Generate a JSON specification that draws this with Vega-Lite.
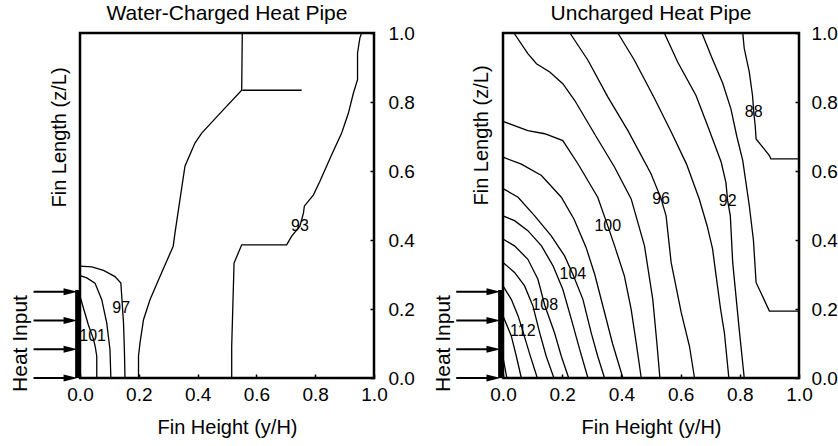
{
  "$schema": "https://vega.github.io/schema/vega-lite/v6.json",
  "background": "white",
  "padding": {"left": 8, "top": 1, "right": 0, "bottom": 0},
  "spacing": 15,
  "datasets": {
    "arrows": [
      {"xa": -0.158, "xb": -0.035, "xh": -0.032, "y": 0},
      {"xa": -0.158, "xb": -0.035, "xh": -0.032, "y": 0.083},
      {"xa": -0.158, "xb": -0.035, "xh": -0.032, "y": 0.167},
      {"xa": -0.158, "xb": -0.035, "xh": -0.032, "y": 0.25}
    ],
    "heater": [{"x": -0.008, "y0": 0, "y1": 0.255}],
    "heatlabel": [{"x": -0.2, "y": 0.1, "t": "Heat Input"}],
    "leftLines": [
      {"c": "101", "o": 0, "x": 0, "y": 0.237},
      {"c": "101", "o": 1, "x": 0.028, "y": 0.155},
      {"c": "101", "o": 2, "x": 0.045, "y": 0.115},
      {"c": "101", "o": 3, "x": 0.052, "y": 0.09},
      {"c": "101", "o": 4, "x": 0.057, "y": 0.063},
      {"c": "101", "o": 5, "x": 0.057, "y": 0},
      {"c": "99", "o": 0, "x": 0, "y": 0.297},
      {"c": "99", "o": 1, "x": 0.023, "y": 0.29},
      {"c": "99", "o": 2, "x": 0.051, "y": 0.275},
      {"c": "99", "o": 3, "x": 0.074, "y": 0.227},
      {"c": "99", "o": 4, "x": 0.091, "y": 0.159},
      {"c": "99", "o": 5, "x": 0.102, "y": 0.082},
      {"c": "99", "o": 6, "x": 0.105, "y": 0},
      {"c": "97", "o": 0, "x": 0, "y": 0.324},
      {"c": "97", "o": 1, "x": 0.04, "y": 0.322},
      {"c": "97", "o": 2, "x": 0.08, "y": 0.312},
      {"c": "97", "o": 3, "x": 0.119, "y": 0.294},
      {"c": "97", "o": 4, "x": 0.139, "y": 0.275},
      {"c": "97", "o": 5, "x": 0.142, "y": 0.237},
      {"c": "97", "o": 6, "x": 0.148, "y": 0.159},
      {"c": "97", "o": 7, "x": 0.151, "y": 0.082},
      {"c": "97", "o": 8, "x": 0.153, "y": 0},
      {"c": "95", "o": 0, "x": 0.199, "y": 0},
      {"c": "95", "o": 1, "x": 0.199, "y": 0.063},
      {"c": "95", "o": 2, "x": 0.204, "y": 0.101},
      {"c": "95", "o": 3, "x": 0.216, "y": 0.169},
      {"c": "95", "o": 4, "x": 0.238, "y": 0.227},
      {"c": "95", "o": 5, "x": 0.272, "y": 0.294},
      {"c": "95", "o": 6, "x": 0.317, "y": 0.382},
      {"c": "95", "o": 7, "x": 0.323, "y": 0.42},
      {"c": "95", "o": 8, "x": 0.357, "y": 0.614},
      {"c": "95", "o": 9, "x": 0.391, "y": 0.681},
      {"c": "95", "o": 10, "x": 0.414, "y": 0.71},
      {"c": "95", "o": 11, "x": 0.488, "y": 0.778},
      {"c": "95", "o": 12, "x": 0.55, "y": 0.834},
      {"c": "95", "o": 13, "x": 0.552, "y": 1.0},
      {"c": "95b", "o": 0, "x": 0.552, "y": 0.834},
      {"c": "95b", "o": 1, "x": 0.754, "y": 0.834},
      {"c": "93", "o": 0, "x": 0.516, "y": 0},
      {"c": "93", "o": 1, "x": 0.516, "y": 0.092},
      {"c": "93", "o": 2, "x": 0.524, "y": 0.333},
      {"c": "93", "o": 3, "x": 0.55, "y": 0.386},
      {"c": "93", "o": 4, "x": 0.703, "y": 0.386},
      {"c": "93", "o": 5, "x": 0.72, "y": 0.411},
      {"c": "93", "o": 6, "x": 0.748, "y": 0.44},
      {"c": "93", "o": 7, "x": 0.76, "y": 0.478},
      {"c": "93", "o": 8, "x": 0.763, "y": 0.498},
      {"c": "93", "o": 9, "x": 0.794, "y": 0.531},
      {"c": "93", "o": 10, "x": 0.816, "y": 0.57},
      {"c": "93", "o": 11, "x": 0.856, "y": 0.647},
      {"c": "93", "o": 12, "x": 0.89, "y": 0.71},
      {"c": "93", "o": 13, "x": 0.913, "y": 0.768},
      {"c": "93", "o": 14, "x": 0.93, "y": 0.826},
      {"c": "93", "o": 15, "x": 0.944, "y": 0.865},
      {"c": "93", "o": 16, "x": 0.944, "y": 0.942},
      {"c": "93", "o": 17, "x": 0.952, "y": 0.986},
      {"c": "93", "o": 18, "x": 0.958, "y": 1.0}
    ],
    "leftLabels": [
      {"t": "101", "x": 0.043, "y": 0.121},
      {"t": "97", "x": 0.14, "y": 0.203},
      {"t": "93", "x": 0.748, "y": 0.44}
    ],
    "rightLines": [
      {"c": "116", "o": 0, "x": 0, "y": 0.06},
      {"c": "116", "o": 1, "x": 0.013, "y": 0},
      {"c": "114", "o": 0, "x": 0, "y": 0.18},
      {"c": "114", "o": 1, "x": 0.028, "y": 0.122},
      {"c": "114", "o": 2, "x": 0.045, "y": 0.063},
      {"c": "114", "o": 3, "x": 0.062, "y": 0},
      {"c": "112", "o": 0, "x": 0, "y": 0.267},
      {"c": "112", "o": 1, "x": 0.028, "y": 0.228},
      {"c": "112", "o": 2, "x": 0.051, "y": 0.18},
      {"c": "112", "o": 3, "x": 0.067, "y": 0.136},
      {"c": "112", "o": 4, "x": 0.09, "y": 0.07},
      {"c": "112", "o": 5, "x": 0.116, "y": 0},
      {"c": "110", "o": 0, "x": 0, "y": 0.335},
      {"c": "110", "o": 1, "x": 0.039, "y": 0.306},
      {"c": "110", "o": 2, "x": 0.073, "y": 0.267},
      {"c": "110", "o": 3, "x": 0.101, "y": 0.209},
      {"c": "110", "o": 4, "x": 0.124, "y": 0.131},
      {"c": "110", "o": 5, "x": 0.146, "y": 0.063},
      {"c": "110", "o": 6, "x": 0.172, "y": 0},
      {"c": "108", "o": 0, "x": 0, "y": 0.403},
      {"c": "108", "o": 1, "x": 0.039, "y": 0.383},
      {"c": "108", "o": 2, "x": 0.084, "y": 0.344},
      {"c": "108", "o": 3, "x": 0.118, "y": 0.286},
      {"c": "108", "o": 4, "x": 0.141, "y": 0.211},
      {"c": "108", "o": 5, "x": 0.174, "y": 0.131},
      {"c": "108", "o": 6, "x": 0.197, "y": 0.063},
      {"c": "108", "o": 7, "x": 0.222, "y": 0},
      {"c": "106", "o": 0, "x": 0, "y": 0.47},
      {"c": "106", "o": 1, "x": 0.039, "y": 0.456},
      {"c": "106", "o": 2, "x": 0.084, "y": 0.427},
      {"c": "106", "o": 3, "x": 0.13, "y": 0.383},
      {"c": "106", "o": 4, "x": 0.169, "y": 0.325},
      {"c": "106", "o": 5, "x": 0.202, "y": 0.257},
      {"c": "106", "o": 6, "x": 0.231, "y": 0.17},
      {"c": "106", "o": 7, "x": 0.259, "y": 0.083},
      {"c": "106", "o": 8, "x": 0.287, "y": 0},
      {"c": "104", "o": 0, "x": 0, "y": 0.549},
      {"c": "104", "o": 1, "x": 0.051, "y": 0.524},
      {"c": "104", "o": 2, "x": 0.107, "y": 0.47},
      {"c": "104", "o": 3, "x": 0.163, "y": 0.412},
      {"c": "104", "o": 4, "x": 0.208, "y": 0.354},
      {"c": "104", "o": 5, "x": 0.236, "y": 0.301},
      {"c": "104", "o": 6, "x": 0.27, "y": 0.228},
      {"c": "104", "o": 7, "x": 0.298, "y": 0.131},
      {"c": "104", "o": 8, "x": 0.32, "y": 0.063},
      {"c": "104", "o": 9, "x": 0.343, "y": 0},
      {"c": "102", "o": 0, "x": 0, "y": 0.64},
      {"c": "102", "o": 1, "x": 0.062, "y": 0.62},
      {"c": "102", "o": 2, "x": 0.13, "y": 0.587},
      {"c": "102", "o": 3, "x": 0.197, "y": 0.524},
      {"c": "102", "o": 4, "x": 0.24, "y": 0.46},
      {"c": "102", "o": 5, "x": 0.28, "y": 0.38},
      {"c": "102", "o": 6, "x": 0.31, "y": 0.3},
      {"c": "102", "o": 7, "x": 0.34, "y": 0.2},
      {"c": "102", "o": 8, "x": 0.37, "y": 0.1},
      {"c": "102", "o": 9, "x": 0.405, "y": 0},
      {"c": "100", "o": 0, "x": 0, "y": 0.744},
      {"c": "100", "o": 1, "x": 0.084, "y": 0.717},
      {"c": "100", "o": 2, "x": 0.141, "y": 0.708},
      {"c": "100", "o": 3, "x": 0.202, "y": 0.688},
      {"c": "100", "o": 4, "x": 0.253, "y": 0.621},
      {"c": "100", "o": 5, "x": 0.32, "y": 0.524},
      {"c": "100", "o": 6, "x": 0.354, "y": 0.441},
      {"c": "100", "o": 7, "x": 0.377, "y": 0.383},
      {"c": "100", "o": 8, "x": 0.41, "y": 0.296},
      {"c": "100", "o": 9, "x": 0.433, "y": 0.199},
      {"c": "100", "o": 10, "x": 0.45, "y": 0.102},
      {"c": "100", "o": 11, "x": 0.467, "y": 0},
      {"c": "98", "o": 0, "x": 0.037, "y": 1},
      {"c": "98", "o": 1, "x": 0.084, "y": 0.94},
      {"c": "98", "o": 2, "x": 0.113, "y": 0.911},
      {"c": "98", "o": 3, "x": 0.158, "y": 0.887},
      {"c": "98", "o": 4, "x": 0.202, "y": 0.853},
      {"c": "98", "o": 5, "x": 0.242, "y": 0.805},
      {"c": "98", "o": 6, "x": 0.309, "y": 0.708},
      {"c": "98", "o": 7, "x": 0.377, "y": 0.611},
      {"c": "98", "o": 8, "x": 0.433, "y": 0.519},
      {"c": "98", "o": 9, "x": 0.478, "y": 0.383},
      {"c": "98", "o": 10, "x": 0.506, "y": 0.228},
      {"c": "98", "o": 11, "x": 0.52, "y": 0.1},
      {"c": "98", "o": 12, "x": 0.53, "y": 0},
      {"c": "96", "o": 0, "x": 0.226, "y": 1},
      {"c": "96", "o": 1, "x": 0.287, "y": 0.921},
      {"c": "96", "o": 2, "x": 0.354, "y": 0.815},
      {"c": "96", "o": 3, "x": 0.422, "y": 0.717},
      {"c": "96", "o": 4, "x": 0.5, "y": 0.592},
      {"c": "96", "o": 5, "x": 0.534, "y": 0.52},
      {"c": "96", "o": 6, "x": 0.551, "y": 0.47},
      {"c": "96", "o": 7, "x": 0.568, "y": 0.335},
      {"c": "96", "o": 8, "x": 0.602, "y": 0.19},
      {"c": "96", "o": 9, "x": 0.63, "y": 0.092},
      {"c": "96", "o": 10, "x": 0.647, "y": 0},
      {"c": "94", "o": 0, "x": 0.388, "y": 1},
      {"c": "94", "o": 1, "x": 0.444, "y": 0.921},
      {"c": "94", "o": 2, "x": 0.512, "y": 0.81},
      {"c": "94", "o": 3, "x": 0.57, "y": 0.71},
      {"c": "94", "o": 4, "x": 0.62, "y": 0.62},
      {"c": "94", "o": 5, "x": 0.663, "y": 0.519},
      {"c": "94", "o": 6, "x": 0.69, "y": 0.44},
      {"c": "94", "o": 7, "x": 0.708, "y": 0.374},
      {"c": "94", "o": 8, "x": 0.72, "y": 0.296},
      {"c": "94", "o": 9, "x": 0.735, "y": 0.2},
      {"c": "94", "o": 10, "x": 0.748, "y": 0.131},
      {"c": "94", "o": 11, "x": 0.763, "y": 0},
      {"c": "92", "o": 0, "x": 0.545, "y": 1},
      {"c": "92", "o": 1, "x": 0.59, "y": 0.916},
      {"c": "92", "o": 2, "x": 0.652, "y": 0.819},
      {"c": "92", "o": 3, "x": 0.691, "y": 0.732},
      {"c": "92", "o": 4, "x": 0.737, "y": 0.626},
      {"c": "92", "o": 5, "x": 0.753, "y": 0.567},
      {"c": "92", "o": 6, "x": 0.759, "y": 0.514},
      {"c": "92", "o": 7, "x": 0.768, "y": 0.47},
      {"c": "92", "o": 8, "x": 0.776, "y": 0.335},
      {"c": "92", "o": 9, "x": 0.787, "y": 0.238},
      {"c": "92", "o": 10, "x": 0.798, "y": 0.141},
      {"c": "92", "o": 11, "x": 0.815, "y": 0},
      {"c": "90", "o": 0, "x": 0.672, "y": 1},
      {"c": "90", "o": 1, "x": 0.705, "y": 0.93},
      {"c": "90", "o": 2, "x": 0.742, "y": 0.855},
      {"c": "90", "o": 3, "x": 0.77, "y": 0.78},
      {"c": "90", "o": 4, "x": 0.79, "y": 0.7},
      {"c": "90", "o": 5, "x": 0.81, "y": 0.63},
      {"c": "90", "o": 6, "x": 0.832, "y": 0.5},
      {"c": "90", "o": 7, "x": 0.846, "y": 0.4},
      {"c": "90", "o": 8, "x": 0.855, "y": 0.277},
      {"c": "90", "o": 9, "x": 0.9, "y": 0.194},
      {"c": "90", "o": 10, "x": 1, "y": 0.194},
      {"c": "88", "o": 0, "x": 0.81, "y": 1},
      {"c": "88", "o": 1, "x": 0.815, "y": 0.955},
      {"c": "88", "o": 2, "x": 0.832, "y": 0.887},
      {"c": "88", "o": 3, "x": 0.843, "y": 0.819},
      {"c": "88", "o": 4, "x": 0.847, "y": 0.771},
      {"c": "88", "o": 5, "x": 0.852, "y": 0.732},
      {"c": "88", "o": 6, "x": 0.855, "y": 0.693},
      {"c": "88", "o": 7, "x": 0.9, "y": 0.645},
      {"c": "88", "o": 8, "x": 0.905, "y": 0.635},
      {"c": "88", "o": 9, "x": 1, "y": 0.635}
    ],
    "rightLabels": [
      {"t": "112", "x": 0.067, "y": 0.136},
      {"t": "108", "x": 0.141, "y": 0.211},
      {"t": "104", "x": 0.236, "y": 0.301},
      {"t": "100", "x": 0.354, "y": 0.441},
      {"t": "96", "x": 0.534, "y": 0.52},
      {"t": "92", "x": 0.759, "y": 0.514},
      {"t": "88", "x": 0.847, "y": 0.771}
    ]
  },
  "hconcat": [
    {
      "width": 294,
      "height": 345,
      "title": {"text": "Water-Charged Heat Pipe", "frame": "group", "anchor": "middle", "fontSize": 21, "fontWeight": "normal", "font": "Liberation Sans", "color": "black", "offset": 0},
      "resolve": {"axis": {"x": "independent", "y": "independent"}},
      "layer": [
        {
          "data": {"name": "leftLines"},
          "mark": {"type": "line", "color": "black", "strokeWidth": 1.3},
          "encoding": {
            "x": {"field": "x", "type": "quantitative", "scale": {"domain": [0, 1], "nice": false, "zero": false},
                  "axis": {"orient": "bottom", "title": "Fin Height (y/H)", "values": [0, 0.2, 0.4, 0.6, 0.8, 1.0], "format": ".1f", "labelPadding": 11, "titlePadding": 13}},
            "y": {"field": "y", "type": "quantitative", "scale": {"domain": [0, 1], "nice": false, "zero": false},
                  "axis": {"orient": "right", "title": null, "values": [0, 0.2, 0.4, 0.6, 0.8, 1.0], "format": ".1f", "labelPadding": 18}},
            "detail": {"field": "c"},
            "order": {"field": "o", "type": "quantitative"}
          }
        },
        {
          "data": {"name": "leftLabels"},
          "mark": {"type": "text", "font": "Liberation Sans", "fontSize": 16, "color": "black"},
          "encoding": {
            "x": {"field": "x", "type": "quantitative", "scale": {"domain": [0, 1], "nice": false, "zero": false}, "axis": null},
            "y": {"field": "y", "type": "quantitative", "scale": {"domain": [0, 1], "nice": false, "zero": false}, "axis": null},
            "text": {"field": "t"}
          }
        },
        {
          "data": {"name": "arrows"},
          "mark": {"type": "rule", "color": "black", "strokeWidth": 2},
          "encoding": {
            "x": {"field": "xa", "type": "quantitative", "scale": {"domain": [0, 1], "nice": false, "zero": false}, "axis": null},
            "x2": {"field": "xb"},
            "y": {"field": "y", "type": "quantitative", "scale": {"domain": [0, 1], "nice": false, "zero": false},
                  "axis": {"orient": "left", "title": "Fin Length (z/L)", "labels": false, "ticks": false, "titleX": -21, "titleY": 104, "titleAngle": 270, "titleAlign": "center", "titleBaseline": "middle", "titleFontSize": 20}}
          }
        },
        {
          "data": {"name": "arrows"},
          "mark": {"type": "point", "shape": "M-1,-0.5L1,0L-1,0.5Z", "size": 196, "filled": true, "color": "black", "opacity": 1},
          "encoding": {
            "x": {"field": "xh", "type": "quantitative", "scale": {"domain": [0, 1], "nice": false, "zero": false}, "axis": null},
            "y": {"field": "y", "type": "quantitative", "scale": {"domain": [0, 1], "nice": false, "zero": false}, "axis": null}
          }
        },
        {
          "data": {"name": "heater"},
          "mark": {"type": "rule", "color": "black", "strokeWidth": 5},
          "encoding": {
            "x": {"field": "x", "type": "quantitative", "scale": {"domain": [0, 1], "nice": false, "zero": false}, "axis": null},
            "y": {"field": "y0", "type": "quantitative", "scale": {"domain": [0, 1], "nice": false, "zero": false}, "axis": null},
            "y2": {"field": "y1"}
          }
        },
        {
          "data": {"name": "heatlabel"},
          "mark": {"type": "text", "angle": 270, "font": "Liberation Sans", "fontSize": 21, "color": "black", "align": "center", "baseline": "middle"},
          "encoding": {
            "x": {"field": "x", "type": "quantitative", "scale": {"domain": [0, 1], "nice": false, "zero": false}, "axis": null},
            "y": {"field": "y", "type": "quantitative", "scale": {"domain": [0, 1], "nice": false, "zero": false}, "axis": null},
            "text": {"field": "t"}
          }
        }
      ]
    },
    {
      "width": 296,
      "height": 345,
      "title": {"text": "Uncharged Heat Pipe", "frame": "group", "anchor": "middle", "fontSize": 21, "fontWeight": "normal", "font": "Liberation Sans", "color": "black", "offset": 0},
      "resolve": {"axis": {"x": "independent", "y": "independent"}},
      "layer": [
        {
          "data": {"name": "rightLines"},
          "mark": {"type": "line", "color": "black", "strokeWidth": 1.3},
          "encoding": {
            "x": {"field": "x", "type": "quantitative", "scale": {"domain": [0, 1], "nice": false, "zero": false},
                  "axis": {"orient": "bottom", "title": "Fin Height (y/H)", "values": [0, 0.2, 0.4, 0.6, 0.8, 1.0], "format": ".1f", "labelPadding": 11, "titlePadding": 13}},
            "y": {"field": "y", "type": "quantitative", "scale": {"domain": [0, 1], "nice": false, "zero": false},
                  "axis": {"orient": "right", "title": null, "values": [0, 0.2, 0.4, 0.6, 0.8, 1.0], "format": ".1f", "labelPadding": 16}},
            "detail": {"field": "c"},
            "order": {"field": "o", "type": "quantitative"}
          }
        },
        {
          "data": {"name": "rightLabels"},
          "mark": {"type": "text", "font": "Liberation Sans", "fontSize": 16, "color": "black"},
          "encoding": {
            "x": {"field": "x", "type": "quantitative", "scale": {"domain": [0, 1], "nice": false, "zero": false}, "axis": null},
            "y": {"field": "y", "type": "quantitative", "scale": {"domain": [0, 1], "nice": false, "zero": false}, "axis": null},
            "text": {"field": "t"}
          }
        },
        {
          "data": {"name": "arrows"},
          "mark": {"type": "rule", "color": "black", "strokeWidth": 2},
          "encoding": {
            "x": {"field": "xa", "type": "quantitative", "scale": {"domain": [0, 1], "nice": false, "zero": false}, "axis": null},
            "x2": {"field": "xb"},
            "y": {"field": "y", "type": "quantitative", "scale": {"domain": [0, 1], "nice": false, "zero": false},
                  "axis": {"orient": "left", "title": "Fin Length (z/L)", "labels": false, "ticks": false, "titleX": -22, "titleY": 102, "titleAngle": 270, "titleAlign": "center", "titleBaseline": "middle", "titleFontSize": 20}}
          }
        },
        {
          "data": {"name": "arrows"},
          "mark": {"type": "point", "shape": "M-1,-0.5L1,0L-1,0.5Z", "size": 196, "filled": true, "color": "black", "opacity": 1},
          "encoding": {
            "x": {"field": "xh", "type": "quantitative", "scale": {"domain": [0, 1], "nice": false, "zero": false}, "axis": null},
            "y": {"field": "y", "type": "quantitative", "scale": {"domain": [0, 1], "nice": false, "zero": false}, "axis": null}
          }
        },
        {
          "data": {"name": "heater"},
          "mark": {"type": "rule", "color": "black", "strokeWidth": 5},
          "encoding": {
            "x": {"field": "x", "type": "quantitative", "scale": {"domain": [0, 1], "nice": false, "zero": false}, "axis": null},
            "y": {"field": "y0", "type": "quantitative", "scale": {"domain": [0, 1], "nice": false, "zero": false}, "axis": null},
            "y2": {"field": "y1"}
          }
        },
        {
          "data": {"name": "heatlabel"},
          "mark": {"type": "text", "angle": 270, "font": "Liberation Sans", "fontSize": 21, "color": "black", "align": "center", "baseline": "middle"},
          "encoding": {
            "x": {"field": "x", "type": "quantitative", "scale": {"domain": [0, 1], "nice": false, "zero": false}, "axis": null},
            "y": {"field": "y", "type": "quantitative", "scale": {"domain": [0, 1], "nice": false, "zero": false}, "axis": null},
            "text": {"field": "t"}
          }
        }
      ]
    }
  ],
  "config": {
    "view": {"stroke": "black", "strokeWidth": 2.5},
    "axis": {
      "grid": false,
      "domain": false,
      "labelFont": "Liberation Sans",
      "labelFontSize": 19,
      "labelColor": "black",
      "labelFlush": false,
      "labelOverlap": false,
      "titleFont": "Liberation Sans",
      "titleFontSize": 20,
      "titleFontWeight": "normal",
      "titleColor": "black",
      "tickColor": "black",
      "tickSize": -4,
      "tickWidth": 1.5
    }
  }
}
